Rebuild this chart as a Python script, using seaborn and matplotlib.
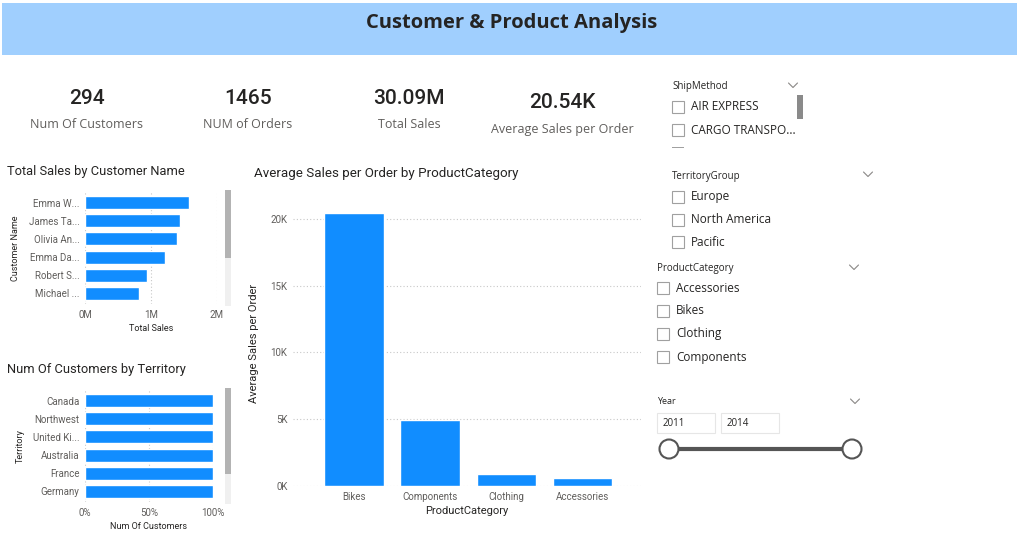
import numpy as np
import pandas as pd
import matplotlib
matplotlib.use("Agg")
import matplotlib.pyplot as plt
import seaborn as sns
from matplotlib.patches import Rectangle, Ellipse
from matplotlib.ticker import FuncFormatter

# Data
customers = ["Emma W...", "James Ta...", "Olivia An...", "Emma Da...", "Robert S...", "Michael ..."]
customer_sales = [1.58e6, 1.44e6, 1.39e6, 1.21e6, 0.94e6, 0.82e6]

territories = ["Canada", "Northwest", "United Ki...", "Australia", "France", "Germany"]
territory_share = [1.0, 1.0, 1.0, 1.0, 1.0, 1.0]

categories = ["Bikes", "Components", "Clothing", "Accessories"]
avg_sales = [20450, 4940, 900, 600]

kpi_values = ["294", "1465", "30.09M", "20.54K"]
kpi_labels = ["Num Of Customers", "NUM of Orders", "Total Sales", "Average Sales per Order"]

ship_methods = ["AIR EXPRESS", "CARGO TRANSPO..."]
territory_groups = ["Europe", "North America", "Pacific"]
year_range = ["2011", "2014"]

BLUE = "#118dff"
GRID = "#c8c8c8"
TXT = "#605e5c"
DARK = "#252423"

W, H = 1017, 555
sns.set_theme(style="white")
plt.rcParams["font.family"] = ["Roboto", "DejaVu Sans"]

fig = plt.figure(figsize=(W / 100, H / 100), dpi=100)


def add_ax(x0, y0, x1, y1):
    return fig.add_axes([x0 / W, 1 - y1 / H, (x1 - x0) / W, (y1 - y0) / H])


def ftext(x, y, s, **kw):
    fig.text(x / W, 1 - y / H, s, **kw)


def box(x0, y0, w, h, **kw):
    fig.patches.append(Rectangle((x0 / W, 1 - (y0 + h) / H), w / W, h / H,
                                 transform=fig.transFigure, **kw))


def fline(xs, ys, **kw):
    fig.lines.append(plt.Line2D([x / W for x in xs], [1 - y / H for y in ys],
                                transform=fig.transFigure, **kw))


# header band
box(2, 3, 1015, 52, facecolor="#a0cffe", edgecolor="none")
ftext(512, 23, "Customer & Product Analysis", ha="center", va="center",
      fontsize=14.5, fontweight="bold", color=DARK, family=["Open Sans", "DejaVu Sans"])

# KPI cards
kpi_x = [87, 248, 409, 562]
kpi_y = [98, 98, 98, 103]
for x, y, v, lab in zip(kpi_x, kpi_y, kpi_values, kpi_labels):
    ftext(x, y, v, ha="center", va="center", fontsize=15, color=DARK, fontweight="medium")
    ftext(x, y + 27, lab, ha="center", va="center", fontsize=9, color=TXT,
          family=["Open Sans", "DejaVu Sans"])


def small_bar(ax, labels, values, xmax, ticks, fmt, xlabel, ylabel):
    df = pd.DataFrame({"label": labels, "value": values})
    sns.barplot(data=df, y="label", x="value", color=BLUE, width=0.72,
                saturation=1, ax=ax, orient="h")
    ax.set_xlim(0, xmax)
    ax.set_xticks(ticks)
    ax.xaxis.set_major_formatter(FuncFormatter(fmt))
    ax.grid(axis="x", color=GRID, linestyle=(0, (1, 2)), linewidth=0.8)
    ax.set_axisbelow(True)
    for s in ax.spines.values():
        s.set_visible(False)
    ax.tick_params(axis="both", length=0, labelsize=7, labelcolor=TXT, pad=4)
    ax.set_xlabel(xlabel, fontsize=6.5, color=DARK, labelpad=3)
    ax.set_ylabel(ylabel, fontsize=6.5, color=DARK, labelpad=6)


# Total Sales by Customer Name
ftext(7, 172, "Total Sales by Customer Name", ha="left", va="center", fontsize=9.3, color=DARK)
ax1 = add_ax(85, 192, 217, 304)
small_bar(ax1, customers, customer_sales, 2e6, [0, 1e6, 2e6],
          lambda v, p: f"{v / 1e6:.0f}M", "Total Sales", "Customer Name")
ax1.set_ylim(5.6, -0.6)

# Num Of Customers by Territory
ftext(7, 370, "Num Of Customers by Territory", ha="left", va="center", fontsize=9.3, color=DARK)
ax2 = add_ax(85, 390, 213, 502)
small_bar(ax2, territories, territory_share, 1.0, [0, 0.5, 1.0],
          lambda v, p: f"{v * 100:.0f}%", "Num Of Customers", "Territory")
ax2.set_ylim(5.6, -0.6)

# scrollbars for the two small visuals
for y0, h, th in [(190, 116, 68), (388, 116, 86)]:
    box(225, y0, 6, h, facecolor="#f0f0f0", edgecolor="none")
    box(225, y0, 6, th, facecolor="#b3b3b3", edgecolor="none")

# Average Sales per Order by ProductCategory
ftext(254, 174, "Average Sales per Order by ProductCategory", ha="left", va="center",
      fontsize=9.6, color=DARK)
ax3 = add_ax(293, 200, 641, 486)
df3 = pd.DataFrame({"cat": categories, "val": avg_sales})
sns.barplot(data=df3, x="cat", y="val", color=BLUE, width=0.78, saturation=1, ax=ax3)
ax3.set_xlim(-0.8, 3.77)
ax3.set_ylim(0, 21400)
ax3.set_yticks([0, 5000, 10000, 15000, 20000])
ax3.yaxis.set_major_formatter(FuncFormatter(lambda v, p: f"{v / 1000:.0f}K"))
ax3.grid(axis="y", color=GRID, linestyle=(0, (1, 2)), linewidth=0.8)
ax3.set_axisbelow(True)
for s in ax3.spines.values():
    s.set_visible(False)
ax3.tick_params(axis="both", length=0, labelsize=7, labelcolor=TXT, pad=4)
ax3.set_xlabel("ProductCategory", fontsize=8, color=DARK, labelpad=3)
ax3.set_ylabel("Average Sales per Order", fontsize=8, color=DARK, labelpad=8)

# Slicers
SL = ["Open Sans", "DejaVu Sans"]


def chevron(x, y):
    fline([x - 4.5, x, x + 4.5], [y - 2, y + 2.5, y - 2], color="#8a8886", linewidth=0.8)


def checklist(x, y0, items, step):
    for i, it in enumerate(items):
        y = y0 + i * step
        box(x, y - 6, 12, 12, facecolor="white", edgecolor="#a0a0a0", linewidth=0.8)
        ftext(x + 19, y, it, ha="left", va="center", fontsize=8.5, color=DARK, family=SL)


ftext(672, 87, "ShipMethod", ha="left", va="center", fontsize=7, color=DARK, family=SL)
chevron(793, 85)
checklist(672, 107, ship_methods, 23)
box(672, 147, 12, 1, facecolor="#a0a0a0", edgecolor="none")
box(797, 95, 6, 24, facecolor="#8a8a8a", edgecolor="none")

ftext(672, 176, "TerritoryGroup", ha="left", va="center", fontsize=7, color=DARK, family=SL)
chevron(868, 174)
checklist(672, 197, territory_groups, 22.5)

ftext(657, 269, "ProductCategory", ha="left", va="center", fontsize=7, color=DARK, family=SL)
chevron(854, 267)
checklist(657, 288, sorted(categories), 23)

ftext(657, 402, "Year", ha="left", va="center", fontsize=6.5, color=DARK, family=SL)
chevron(855, 401)
for xb, yr in zip([657, 721], year_range):
    box(xb, 413, 58, 20, facecolor="white", edgecolor="#e6e6e6", linewidth=0.8)
    ftext(xb + 6, 423, yr, ha="left", va="center", fontsize=7, color=DARK, family=SL)
fline([669, 852], [449, 449], color="#555555", linewidth=3)
for cx in [669, 852]:
    fig.patches.append(Ellipse((cx / W, 1 - 449 / H), 19 / W, 19 / H,
                               transform=fig.transFigure, facecolor="white",
                               edgecolor="#555555", linewidth=1.5, zorder=5))

fig.savefig("out.png", dpi=100, facecolor="white")
